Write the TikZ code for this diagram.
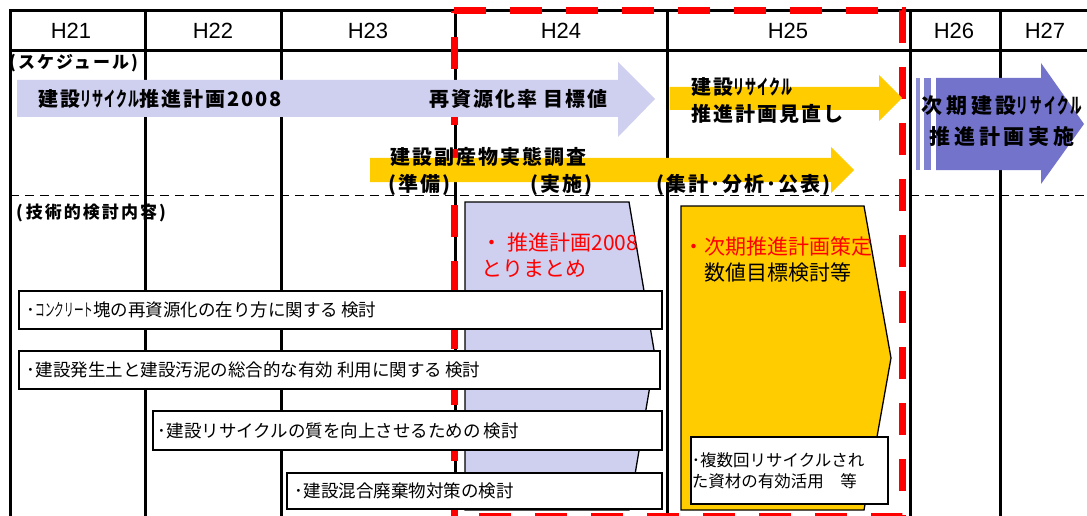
\documentclass[tikz,border=0pt]{standalone}
\usepackage{fontspec}
\setmainfont{Liberation Sans}
\newfontfamily\jp{Noto Sans CJK JP}
\usepackage{xcolor}
\usepackage{graphicx}
\usepackage{tikz}
\definecolor{lavender}{HTML}{CFCFEF}
\definecolor{nextplan}{HTML}{7373CC}
\definecolor{survey}{HTML}{FFCC00}
\newcommand{\narrowkana}[1]{\scalebox{0.55}[1]{#1}}
\tikzset{gridline/.style = {black, line width=3pt}}
\tikzset{yearlabel/.style = {inner sep=0pt, font=\fontsize{22}{26}\selectfont}}
\tikzset{headlabel/.style = {inner sep=0pt, anchor=west, font=\jp\bfseries\fontsize{17}{20}\selectfont\addfontfeatures{LetterSpace=12}}}
\tikzset{boldlabel/.style = {inner sep=0pt, anchor=west, align=left, font=\jp\bfseries\fontsize{20}{27}\selectfont\addfontfeatures{LetterSpace=10}}}
\tikzset{notelabel/.style = {inner sep=0pt, anchor=west, align=left, font=\jp\fontsize{21}{26}\selectfont}}
\tikzset{tasklabel/.style = {draw=black, line width=1.8pt, fill=white, anchor=north west, inner xsep=8pt, inner ysep=0pt, align=left, minimum height=38pt, font=\jp\fontsize{17.5}{21}\selectfont}}

\begin{document}
\begin{tikzpicture}[x=1pt, y=-1pt]
\useasboundingbox (0,0) rectangle (1087,516);
\draw[black, line width=2.5pt] (10,10.7) -- (1087,10.7);
\draw[black, line width=2.5pt] (10,50.7) -- (1087,50.7);
\foreach \x in {10,145.7,281.7,455,667,910,1000} \draw[gridline] (\x,9.5) -- (\x,516);
\draw[black, line width=1.8pt, dash pattern=on 9pt off 6pt] (10,195.5) -- (1087,195.5);
\foreach \yr/\xc in {21/71,22/213,23/368,24/561,25/788,26/954,27/1045} \node[yearlabel] (h\yr) at (\xc,31) {H\yr};
\draw[red, line width=7pt, dash pattern=on 32pt off 24pt] (454,11) -- (902,11) -- (902,516) -- (454,516) -- cycle;

\fill[lavender] (17,80) -- (618,80) -- (618,62) -- (655,99) -- (618,137) -- (618,117) -- (17,117) -- cycle;
\fill[survey] (669.6,87) -- (879,87) -- (879,75) -- (902,98) -- (879,121) -- (879,110) -- (669.6,110) -- cycle;
\fill[survey] (370,158) -- (831,158) -- (831,147) -- (854,170) -- (831,193) -- (831,182) -- (370,182) -- cycle;
\fill[nextplan] (936,78) -- (1041,78) -- (1041,63) -- (1084,124) -- (1041,184) -- (1041,170) -- (936,170) -- cycle;
\fill[nextplan!80!white] (916,78) rectangle (920,170);
\fill[nextplan!90!white] (924,78) rectangle (931,170);

\node[headlabel] (schedule) at (9,63) {(スケジュール)};
\node[headlabel] (technical) at (16,213) {(\,技術的検討内容)};
\node[boldlabel] (plan2008) at (38,99) {建設\narrowkana{リサイクル}推進計画2008};
\node[boldlabel] (target) at (429,99) {再資源化率 目標値};
\node[boldlabel] (review) at (691,100.5) {建設\narrowkana{リサイクル}\\推進計画見直し};
\node[boldlabel] (census) at (390,157) {建設副産物実態調査};
\node[boldlabel] (prep) at (388,185) {(準備)};
\node[boldlabel] (exec) at (530,185) {(実施)};
\node[boldlabel] (report) at (656,185) {(集計･分析･公表)};
\node[boldlabel, anchor=center, align=center, font=\jp\bfseries\fontsize{21}{31}\selectfont\addfontfeatures{LetterSpace=18}] (nextrun) at (1002,121.5) {次期建設\narrowkana{リサイクル}\\推進計画実施};

\filldraw[fill=lavender, draw=black, line width=1.3pt] (465,202) -- (629,202) -- (655,356) -- (629,510) -- (465,510) -- cycle;
\filldraw[fill=survey, draw=black, line width=1.3pt] (681,206) -- (864,206) -- (891,358) -- (864,510) -- (681,510) -- cycle;
\node[notelabel, text=red] (summary) at (481.5,255) {・ 推進計画2008\\とりまとめ};
\node[notelabel] (nextdraft) at (704,260) {\llap{\textcolor{red}{・}}\textcolor{red}{次期推進計画策定}\\数値目標検討等};

\node[tasklabel, text width=627pt] (concrete) at (18,290) {･\narrowkana{コンクリート}塊の再資源化の在り方に関する\hspace{3pt}検討};
\node[tasklabel, text width=625pt] (soil) at (18,350) {･建設発生土と建設汚泥の総合的な有効\hspace{4pt}利用に関する\hspace{3pt}検討};
\node[tasklabel, text width=499pt, inner xsep=5pt, minimum height=39pt] (quality) at (152,410) {･建設リサイクルの質を向上させるための\hspace{3pt}検討};
\node[tasklabel, text width=359pt, minimum height=36pt] (mixed) at (286,472) {･建設混合廃棄物対策の検討};
\node[tasklabel, text width=195pt, inner xsep=1pt, minimum height=67pt, font=\jp\fontsize{16.5}{21}\selectfont] (reuse) at (690,436) {･複数回リサイクルされ\\た資材の有効活用　等};
\end{tikzpicture}
\end{document}
